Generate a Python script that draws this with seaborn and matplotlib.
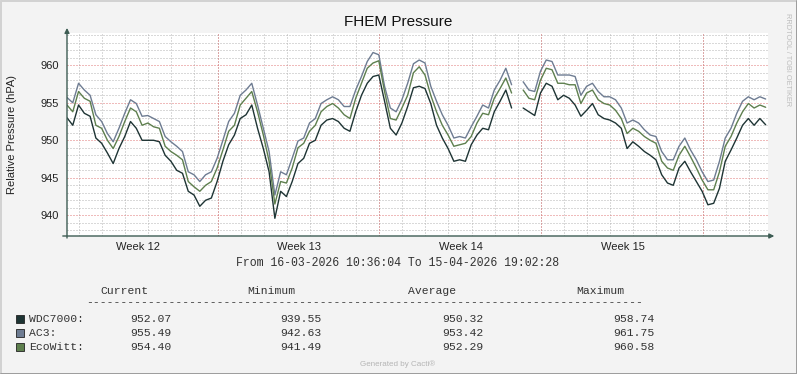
"""FHEM pressure graph, RRDtool look (Matplotlib + Seaborn)."""

import matplotlib

matplotlib.use("Agg")

import matplotlib.pyplot as plt
import numpy as np
import pandas as pd
import seaborn as sns
from matplotlib.lines import Line2D
from matplotlib.patches import Rectangle

nan = np.nan

# 6-hourly samples
START = "2026-03-16 10:36:04"
END = "2026-04-15 19:02:28"

ac3 = [
    955.7, 955.0, 957.6, 956.7, 956.0, 953.4, 952.5, 950.9, 949.8, 951.6,
    953.6, 955.4, 954.9, 953.2, 953.3, 952.9, 952.5, 950.5, 949.8, 949.2,
    948.5, 945.8, 945.4, 944.5, 945.4, 945.8, 947.6, 950.0, 952.5, 953.6,
    956.0, 956.7, 957.6, 954.7, 951.6, 948.5, 942.7, 945.8, 945.4, 947.6,
    949.9, 950.3, 952.3, 952.9, 954.9, 955.4, 955.8, 955.4, 954.5, 954.5,
    956.7, 958.5, 960.5, 961.7, 961.4, 957.2, 954.3, 953.8, 955.4, 957.6,
    960.2, 960.7, 960.3, 957.2, 955.2, 953.4, 952.0, 950.3, 950.5, 950.3,
    951.8, 953.2, 954.7, 954.3, 956.7, 958.0, 959.6, 957.4, nan, 957.8,
    956.7, 956.5, 959.2, 960.7, 960.5, 958.7, 958.7, 958.7, 958.5, 956.0,
    957.2, 957.6, 956.5, 955.8, 955.8, 955.4, 954.3, 952.3, 952.7, 952.3,
    951.4, 950.7, 950.5, 948.5, 947.4, 947.4, 949.2, 950.3, 948.7, 947.4,
    945.8, 944.5, 944.7, 947.2, 950.3, 951.6, 953.6, 955.2, 955.8, 955.4,
    955.8, 955.5,
]
ecowitt = [
    954.7, 953.8, 956.5, 955.6, 955.2, 952.0, 951.6, 950.0, 948.9, 950.5,
    952.5, 954.3, 953.8, 952.0, 952.3, 951.8, 951.6, 949.2, 948.5, 948.0,
    947.4, 944.5, 943.8, 943.2, 944.0, 944.5, 946.3, 948.7, 951.2, 952.0,
    954.7, 955.6, 956.5, 953.8, 950.7, 947.2, 941.5, 944.5, 944.3, 946.3,
    949.0, 949.6, 951.2, 952.0, 953.8, 954.5, 954.9, 954.3, 953.4, 952.9,
    955.6, 957.6, 959.6, 960.3, 960.6, 956.5, 952.9, 952.7, 954.3, 956.0,
    959.0, 959.8, 958.7, 956.0, 953.8, 952.0, 950.7, 949.2, 949.4, 949.6,
    950.5, 952.3, 953.6, 953.4, 955.6, 956.9, 958.3, 956.3, nan, 956.7,
    955.6, 955.4, 958.0, 959.6, 959.4, 957.6, 957.6, 957.4, 957.4, 954.9,
    956.3, 956.7, 955.4, 954.9, 954.7, 954.0, 952.9, 950.9, 951.6, 951.2,
    950.5, 950.0, 949.6, 947.2, 946.3, 946.0, 948.0, 949.2, 947.8, 946.3,
    944.7, 943.4, 943.4, 945.8, 949.2, 950.5, 952.3, 953.8, 954.9, 954.3,
    954.7, 954.4,
]
wdc7000 = [
    953.0, 952.0, 954.7, 953.6, 953.2, 950.3, 949.6, 948.3, 946.9, 948.9,
    950.5, 952.5, 951.6, 950.0, 950.0, 950.0, 949.8, 948.0, 947.2, 946.0,
    945.6, 943.2, 942.7, 941.2, 942.0, 942.3, 944.5, 947.2, 949.4, 950.7,
    952.9, 953.4, 954.7, 951.6, 948.9, 945.8, 939.6, 943.2, 942.5, 944.5,
    946.9, 947.6, 949.6, 950.0, 952.0, 952.7, 952.9, 952.5, 951.6, 951.2,
    953.8, 956.0, 957.6, 958.5, 958.7, 955.2, 951.6, 950.7, 952.3, 954.5,
    957.0, 957.2, 956.9, 954.9, 952.0, 950.3, 948.9, 947.2, 947.4, 947.2,
    949.4, 950.7, 951.6, 951.4, 953.8, 955.2, 956.7, 954.3, nan, 954.3,
    953.8, 953.3, 956.3, 957.6, 957.2, 955.4, 956.0, 955.6, 954.7, 953.2,
    954.0, 954.9, 953.4, 952.9, 952.7, 952.3, 951.6, 948.9, 949.8, 949.2,
    948.5, 948.0, 947.4, 945.4, 944.3, 944.0, 946.3, 947.2, 945.8, 944.5,
    943.2, 941.4, 941.6, 943.6, 947.2, 948.7, 950.3, 952.0, 952.9, 952.0,
    952.9, 952.07,
]

sensors = ["WDC7000", "AC3", "EcoWitt"]
colors = ["#1E3434", "#6E7C92", "#5E7F4E"]
current = [952.07, 955.49, 954.40]
minimum = [939.55, 942.63, 941.49]
average = [950.32, 953.42, 952.29]
maximum = [958.74, 961.75, 960.58]

week_labels = ["Week 12", "Week 13", "Week 14", "Week 15"]
week_label_days = ["2026-03-19 12:00", "2026-03-26 12:00", "2026-04-02 12:00", "2026-04-09 12:00"]

W, H = 797, 374
BG = "#F3F3F3"
AXIS = "#3D5C53"
MINOR = "#B4B4B4"
MAJOR = "#E07878"
MONO = ["Liberation Mono", "DejaVu Sans Mono"]

sns.set_theme(style="white")
plt.rcParams["font.family"] = ["Liberation Sans", "DejaVu Sans"]

times = pd.date_range(START, periods=len(ac3), freq="6h")
frames = []
for name, vals in zip(sensors, [wdc7000, ac3, ecowitt]):
    v = np.array(vals, dtype=float)
    seg = np.cumsum(np.isnan(v))
    frames.append(pd.DataFrame({"time": times, "hPa": v, "sensor": name, "seg": seg}))
df = pd.concat(frames, ignore_index=True).dropna()
df["unit"] = df["sensor"] + df["seg"].astype(str)

fig = plt.figure(figsize=(W / 100, H / 100), dpi=100, facecolor=BG)
ax = fig.add_axes([67 / W, 1 - 236 / H, (768 - 67) / W, (236 - 33) / H])
ax.set_facecolor("white")

t0, t1 = pd.Timestamp(START), pd.Timestamp(END)
ax.set_xlim(t0, t1)
ax.set_ylim(937.24, 964.3)

# grid: daily / 1 hPa dotted grey, weekly / 5 hPa dotted red
dots = dict(lw=0.72, ls=(0, (1, 2)))
days = pd.date_range("2026-03-16 23:00", t1, freq="D")
for d in days:
    ax.axvline(d, color=MINOR, zorder=0, **dots)
for d in pd.date_range("2026-03-22 23:00", t1, freq="7D"):
    ax.axvline(d, color=MAJOR, zorder=0.5, **dots)
for y in range(938, 965):
    ax.axhline(y, color=MAJOR if y % 5 == 0 else MINOR,
               zorder=0.5 if y % 5 == 0 else 0, **dots)

sns.lineplot(data=df, x="time", y="hPa", hue="sensor", hue_order=sensors,
             palette=colors, units="unit", estimator=None, lw=1.0,
             legend=False, ax=ax, zorder=3)

ax.set_yticks(range(940, 961, 5))
ax.set_yticklabels([str(v) for v in range(940, 961, 5)], fontsize=8, color="#222")
ax.set_xticks(pd.to_datetime(week_label_days))
ax.set_xticklabels(week_labels, fontsize=8, color="#222")
ax.set_xticks(days, minor=True)
ax.tick_params(axis="y", length=0, pad=5.5)
ax.tick_params(axis="x", which="major", length=0, pad=4)
ax.tick_params(axis="x", which="minor", length=2, color="#AAAAAA", width=0.7)
ax.set_xlabel("")
ax.set_ylabel("Relative Pressure (hPA)", fontsize=8, color="#222")
ax.yaxis.set_label_coords(-50 / 701, 0.5)
for s in ax.spines.values():
    s.set_visible(False)

# axis arrows
arrow = dict(arrowstyle="-|>", color=AXIS, lw=1.0, mutation_scale=7, shrinkA=0, shrinkB=0)
ax.annotate("", xy=(0, 1.025), xytext=(0, -0.01), xycoords="axes fraction",
            arrowprops=arrow, annotation_clip=False)
ax.annotate("", xy=(1.009, 0), xytext=(-0.006, 0), xycoords="axes fraction",
            arrowprops=arrow, annotation_clip=False)


def ftext(x, y, s, **kw):
    fig.text(x / W, 1 - y / H, s, **kw)


ftext(398, 22, "FHEM Pressure", fontsize=11, ha="center", va="center", color="#111")
ftext(787, 60, "RRDTOOL / TOBI OETIKER", fontsize=5.3, rotation=270,
      ha="center", va="center", color="#BDBDBD")
ftext(398, 263, f"From {t0:%d-%m-%Y %H:%M:%S} To {t1:%d-%m-%Y %H:%M:%S}",
      family=MONO, fontsize=8.3, ha="center", va="center", color="#333")

# legend table
cols = [(100, "Current", 130, current), (247, "Minimum", 280, minimum),
        (408, "Average", 442.5, average), (576, "Maximum", 613, maximum)]
for hx, head, _, _ in cols:
    ftext(hx, 291, head, family=MONO, fontsize=8.2, va="center", color="#333")
ftext(86, 302, "-" * 81, family=MONO, fontsize=8.2, va="center", color="#333")
for i, name in enumerate(sensors):
    y = 318.5 + i * 14
    fig.add_artist(Rectangle((15.5 / W, 1 - (y + 4.5) / H), 8 / W, 8.5 / H,
                             transform=fig.transFigure, facecolor=colors[i],
                             edgecolor="#222222", lw=0.6))
    ftext(29, y, f"{name}:", family=MONO, fontsize=8.2, va="center", color="#333")
    for _, _, vx, vals in cols:
        ftext(vx, y, f"{vals[i]:.2f}", family=MONO, fontsize=8.2, va="center", color="#333")

ftext(398, 364, "Generated by Cacti®", fontsize=5.8, ha="center", va="center", color="#B5B5B5")

# frame
for xs, ys, c in [([0, 1], [1, 1], "#D2D2D2"), ([0, 0], [0, 1], "#D2D2D2"),
                  ([1, 1], [0, 1], "#9C9C9C"), ([0, 1], [0, 0], "#9C9C9C")]:
    xs = [min(max(v, 0.5 / W), 1 - 0.5 / W) for v in xs]
    ys = [min(max(v, 0.5 / H), 1 - 0.5 / H) for v in ys]
    fig.add_artist(Line2D(xs, ys, transform=fig.transFigure, color=c, lw=1.4))

fig.savefig("out.png", dpi=100, facecolor=BG)
plt.close(fig)
